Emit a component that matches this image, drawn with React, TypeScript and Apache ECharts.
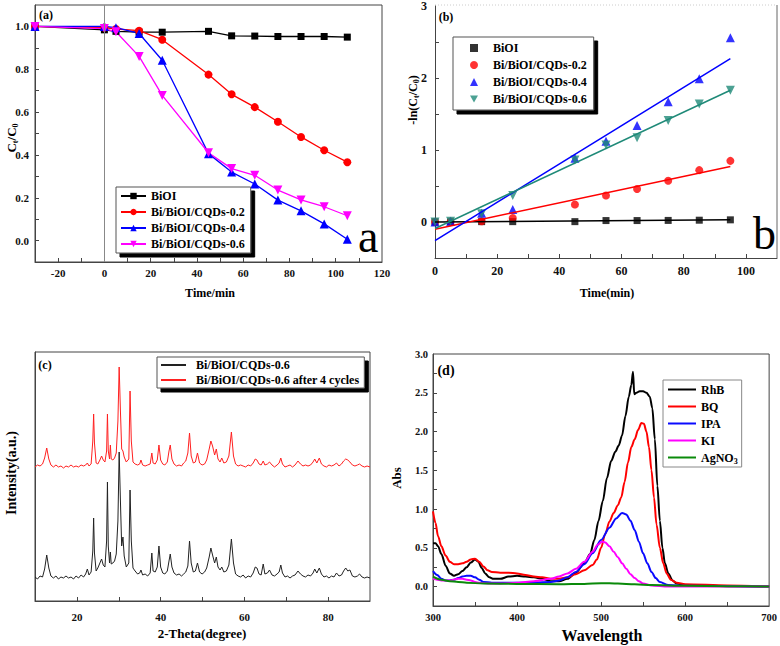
import React, { useEffect, useRef } from 'react';
import * as echarts from 'echarts';

const FONT = '"Liberation Serif", "Times New Roman", Times, serif';

// ---------- (a) Ct/C0 vs time ----------
const aTime = [-30, 0, 5, 15, 25, 45, 55, 65, 75, 85, 95, 105];
const aBiOI = [1.0, 0.984, 0.977, 0.973, 0.973, 0.977, 0.956, 0.955, 0.953, 0.953, 0.953, 0.95];
const aCQD02 = [1.0, 0.995, 0.988, 0.98, 0.938, 0.775, 0.683, 0.623, 0.555, 0.484, 0.422, 0.366];
const aCQD04 = [1.0, 1.0, 0.994, 0.967, 0.842, 0.406, 0.32, 0.264, 0.189, 0.139, 0.078, 0.006];
const aCQD06 = [1.0, 0.99, 0.975, 0.86, 0.678, 0.41, 0.336, 0.305, 0.236, 0.19, 0.158, 0.116];
const aXLabels = [-20, 0, 20, 40, 60, 80, 100, 120];
const aXTicks = [-20, -10, 0, 10, 20, 30, 40, 50, 60, 70, 80, 90, 100, 110];
const aYLabels = [0, 0.2, 0.4, 0.6, 0.8, 1.0];
const aYTicks = [0, 0.1, 0.2, 0.3, 0.4, 0.5, 0.6, 0.7, 0.8, 0.9, 1.0];

// ---------- (b) -ln(Ct/C0) vs time ----------
const bTime = [0, 5, 15, 25, 45, 55, 65, 75, 85, 95];
const bBiOI = [0, 0, 0.005, 0.005, 0.005, 0.02, 0.02, 0.022, 0.025, 0.03];
const bCQD02 = [0, 0.005, 0.01, 0.055, 0.243, 0.367, 0.459, 0.573, 0.72, 0.849];
const bCQD04 = [0, 0.01, 0.12, 0.174, 0.885, 1.12, 1.34, 1.67, 1.99, 2.56];
const bCQD06 = [0, 0.01, 0.115, 0.367, 0.86, 1.07, 1.17, 1.41, 1.64, 1.83];
const bFitTime = [0, 95];
const bFitBiOI = [0.0, 0.03];
const bFitCQD02 = [-0.1, 0.77];
const bFitCQD04 = [-0.26, 2.27];
const bFitCQD06 = [-0.09, 1.83];
const bXLabels = [0, 20, 40, 60, 80, 100];
const bXTicks = [10, 20, 30, 40, 50, 60, 70, 80, 90, 100];
const bYLabels = [0, 1, 2, 3];
const bYTicks = [0, 0.5, 1, 1.5, 2, 2.5];

// ---------- (c) XRD ----------
const xrdAngle = [
  10.0, 10.6, 11.2, 11.8, 12.3, 12.8, 13.3, 13.8, 14.4, 15.0, 15.6, 16.2, 16.8, 17.4, 18.0, 18.6, 19.2, 19.8,
  20.4, 21.0, 21.6, 22.1, 22.5, 22.9, 23.4, 23.8, 24.0, 24.2, 24.6, 25.0, 25.5, 25.9, 26.3, 26.7, 27.1, 27.3,
  27.5, 27.8, 28.0, 28.2, 28.6, 29.0, 29.4, 29.8, 30.1, 30.4, 30.7, 31.0, 31.3, 31.8, 32.4, 32.7, 33.0, 33.4,
  33.9, 34.5, 35.0, 35.3, 35.7, 36.3, 36.9, 37.5, 37.9, 38.2, 38.7, 39.2, 39.6, 40.0, 40.5, 41.0, 41.6, 42.0,
  42.3, 42.7, 43.2, 43.8, 44.4, 45.0, 45.5, 46.0, 46.5, 46.9, 47.3, 47.8, 48.3, 48.8, 49.3, 49.9, 50.5, 51.0,
  51.6, 52.0, 52.4, 52.9, 53.3, 53.7, 54.2, 54.6, 55.1, 55.7, 56.3, 56.9, 57.4, 57.9, 58.5, 59.1, 59.7, 60.3,
  60.9, 61.5, 62.1, 62.6, 63.0, 63.5, 64.0, 64.5, 64.9, 65.5, 66.0, 66.6, 67.2, 67.8, 68.3, 68.7, 69.1, 69.7,
  70.3, 70.9, 71.5, 72.1, 72.8, 73.4, 74.0, 74.6, 75.2, 75.8, 76.4, 76.8, 77.3, 77.9, 78.4, 79.0, 79.6, 80.2,
  80.8, 81.4, 82.0, 82.6, 83.2, 83.7, 84.2, 84.7, 85.2, 85.8, 86.4, 87.0, 87.5, 88.1, 88.7, 89.3, 90.0,
];
const xrdFresh = [
  24, 22, 25, 24, 32, 46, 33, 25, 23, 25, 22, 24, 23, 25, 23, 24, 22, 25,
  23, 26, 24, 27, 32, 26, 29, 50, 83, 48, 30, 33, 38, 42, 36, 34, 60, 119,
  55, 38, 49, 37, 38, 40, 47, 80, 149, 100, 55, 64, 45, 34, 38, 111, 60, 33,
  30, 27, 28, 31, 26, 27, 25, 28, 48, 30, 29, 34, 55, 34, 28, 27, 30, 40,
  47, 34, 28, 26, 27, 25, 27, 29, 35, 60, 38, 29, 30, 38, 29, 27, 29, 33,
  44, 53, 46, 38, 44, 34, 31, 34, 29, 30, 36, 62, 38, 27, 25, 24, 26, 23,
  25, 24, 28, 34, 33, 27, 26, 37, 27, 28, 31, 26, 25, 27, 29, 36, 28, 24,
  25, 23, 25, 26, 30, 27, 25, 24, 26, 25, 28, 32, 28, 33, 27, 24, 25, 23,
  25, 24, 28, 25, 26, 30, 33, 30, 31, 25, 24, 25, 27, 24, 23, 24, 23,
];
const xrdCycled = [
  134, 136, 135, 137, 143, 153, 142, 136, 134, 136, 134, 135, 133, 135, 134, 136, 134, 135,
  134, 136, 135, 136, 138, 135, 137, 160, 187, 158, 138, 137, 141, 145, 141, 139, 150, 187,
  150, 142, 156, 142, 141, 143, 148, 180, 234, 190, 152, 150, 144, 139, 142, 210, 160, 139,
  137, 136, 137, 141, 136, 135, 136, 137, 148, 138, 137, 141, 156, 141, 137, 136, 139, 150,
  156, 142, 137, 135, 136, 135, 138, 140, 148, 168, 145, 138, 139, 148, 138, 136, 137, 141,
  152, 160, 155, 146, 152, 142, 139, 143, 138, 139, 145, 169, 145, 137, 135, 136, 135, 134,
  136, 135, 138, 142, 141, 137, 136, 140, 136, 137, 139, 136, 134, 136, 138, 143, 137, 134,
  135, 136, 134, 136, 140, 137, 135, 136, 135, 136, 139, 142, 138, 143, 137, 135, 134, 136,
  135, 136, 138, 135, 137, 140, 142, 141, 139, 136, 135, 136, 137, 135, 134, 135, 134,
];
const cXLabels = [20, 40, 60, 80];
const cXTicks = [20, 30, 40, 50, 60, 70, 80];

// ---------- (d) UV-vis ----------
const dRhB = [
  [300, 0.56], [303, 0.56], [306, 0.52], [310, 0.42], [315, 0.27], [320, 0.17], [325, 0.14], [330, 0.16],
  [335, 0.2], [340, 0.25], [345, 0.31], [350, 0.35], [354, 0.32], [358, 0.24], [362, 0.17], [367, 0.12],
  [372, 0.1], [380, 0.1], [390, 0.13], [400, 0.14], [410, 0.13], [420, 0.12], [430, 0.1], [440, 0.07],
  [450, 0.07], [460, 0.1], [470, 0.18], [480, 0.3], [487, 0.42], [492, 0.6], [497, 0.85], [502, 1.1],
  [507, 1.4], [512, 1.62], [517, 1.74], [521, 1.82], [525, 1.95], [529, 2.2], [533, 2.45], [536, 2.6],
  [538, 2.77], [539.5, 2.48], [542, 2.5], [546, 2.52], [550, 2.52], [554, 2.5], [558, 2.45], [561, 2.3],
  [564, 1.9], [567, 1.3], [570, 0.85], [573, 0.5], [576, 0.3], [580, 0.17], [585, 0.08], [590, 0.04],
  [600, 0.02], [620, 0.01], [660, 0.005], [700, 0.0],
];
const dBQ = [
  [300, 0.97], [303, 0.82], [306, 0.65], [310, 0.52], [315, 0.4], [320, 0.32], [325, 0.29], [330, 0.29],
  [335, 0.3], [340, 0.32], [345, 0.35], [350, 0.36], [355, 0.32], [360, 0.26], [365, 0.21], [370, 0.19],
  [380, 0.18], [390, 0.18], [400, 0.17], [410, 0.15], [420, 0.13], [430, 0.12], [440, 0.1], [450, 0.1],
  [460, 0.12], [470, 0.16], [480, 0.21], [490, 0.28], [495, 0.35], [500, 0.5], [505, 0.68], [510, 0.84],
  [515, 0.95], [520, 1.05], [524, 1.15], [528, 1.35], [532, 1.6], [536, 1.8], [540, 1.9], [544, 2.02],
  [548, 2.11], [551, 2.1], [554, 2.0], [557, 1.8], [560, 1.5], [563, 1.15], [566, 0.8], [570, 0.5],
  [574, 0.3], [578, 0.17], [583, 0.09], [590, 0.05], [600, 0.03], [650, 0.015], [700, 0.0],
];
const dIPA = [
  [300, 0.2], [305, 0.15], [310, 0.1], [315, 0.08], [320, 0.08], [325, 0.09], [330, 0.11], [335, 0.13],
  [340, 0.14], [345, 0.14], [350, 0.12], [355, 0.09], [360, 0.06], [370, 0.05], [380, 0.05], [400, 0.05],
  [420, 0.05], [440, 0.06], [450, 0.08], [460, 0.12], [470, 0.19], [480, 0.29], [490, 0.43], [500, 0.6],
  [510, 0.76], [518, 0.88], [525, 0.95], [530, 0.93], [535, 0.85], [540, 0.73], [545, 0.58], [550, 0.43],
  [555, 0.3], [560, 0.19], [565, 0.11], [570, 0.06], [580, 0.02], [600, 0.01], [700, 0.0],
];
const dKI = [
  [300, 0.1], [305, 0.09], [310, 0.08], [320, 0.08], [330, 0.1], [335, 0.1], [340, 0.09], [345, 0.08],
  [350, 0.06], [355, 0.05], [365, 0.04], [380, 0.04], [400, 0.05], [420, 0.07], [440, 0.1], [450, 0.13],
  [460, 0.17], [470, 0.23], [480, 0.32], [490, 0.45], [496, 0.54], [501, 0.58], [505, 0.57], [510, 0.52],
  [515, 0.45], [520, 0.38], [525, 0.3], [530, 0.23], [535, 0.16], [540, 0.11], [545, 0.07], [550, 0.04],
  [560, 0.015], [580, 0.0], [700, 0.0],
];
const dAgNO3 = [
  [300, 0.13], [310, 0.09], [320, 0.07], [330, 0.06], [340, 0.05], [360, 0.04], [400, 0.035], [450, 0.03],
  [480, 0.035], [500, 0.045], [520, 0.04], [540, 0.03], [560, 0.02], [600, 0.01], [650, 0.005], [700, 0.0],
];
const dXLabels = [300, 400, 500, 600, 700];
const dXTicks = [350, 400, 450, 500, 550, 600, 650];
const dYLabels = [0, 0.5, 1.0, 1.5, 2.0, 2.5, 3.0];
const dYTicks = [0, 0.25, 0.5, 0.75, 1.0, 1.25, 1.5, 1.75, 2.0, 2.25, 2.5, 2.75];

const aNames = ['BiOI', 'Bi/BiOI/CQDs-0.2', 'Bi/BiOI/CQDs-0.4', 'Bi/BiOI/CQDs-0.6'];
const bNames = aNames.map((n) => n + ' ');
const cNames = ['Bi/BiOI/CQDs-0.6  ', 'Bi/BiOI/CQDs-0.6 after 4 cycles'];
const dNames = ['RhB', 'BQ', 'IPA', 'KI', 'AgNO3'];

const AXC = '#444';
const DOWN_TRI = 'path://M0,0L10,0L5,9Z';

function xAxisDef(gridIndex: number, min: number, max: number, labels: number[], ticks: number[], fontSize: number, margin: number) {
  return {
    gridIndex, type: 'value', min, max,
    axisLine: { onZero: false, lineStyle: { color: AXC, width: 1 } },
    axisTick: { inside: true, length: 4, customValues: ticks, lineStyle: { color: AXC } },
    axisLabel: { customValues: labels, fontFamily: FONT, fontWeight: 'bold', fontSize, color: '#111', margin },
    splitLine: { show: false },
  };
}
function yAxisDef(gridIndex: number, min: number, max: number, labels: number[] | null, ticks: number[] | null, fontSize: number, margin: number, fmt?: (v: number) => string) {
  return {
    gridIndex, type: 'value', min, max,
    axisLine: { onZero: false, lineStyle: { color: AXC, width: 1 } },
    axisTick: ticks ? { inside: true, length: 4, customValues: ticks, lineStyle: { color: AXC } } : { show: false },
    axisLabel: labels
      ? { customValues: labels, fontFamily: FONT, fontWeight: 'bold', fontSize, color: '#111', margin, formatter: fmt }
      : { show: false },
    splitLine: { show: false },
  };
}

const zip = (xs: number[], ys: number[]) => xs.map((x, i) => [x, ys[i]]);

const sub = (size: number) => ({
  m: { fontFamily: FONT, fontWeight: 'bold', fontSize: size, lineHeight: size + 3, fill: '#000', color: '#000' },
  s: { fontFamily: FONT, fontWeight: 'bold', fontSize: Math.round(size * 0.65), lineHeight: Math.round(size * 0.65), verticalAlign: 'bottom', fill: '#000', color: '#000' },
});

function txt(x: number, y: number, text: string, size: number, extra: any = {}) {
  return {
    type: 'text', x, y, z: 10, silent: true,
    style: { text, fontSize: size, fontFamily: FONT, fontWeight: 'bold', fill: '#000', align: 'center', verticalAlign: 'middle', ...extra },
  };
}
function vtxt(x: number, y: number, text: string, size: number, rich?: any) {
  return {
    type: 'text', x, y, rotation: Math.PI / 2, z: 10, silent: true,
    style: rich
      ? { text, rich, align: 'center', verticalAlign: 'middle' }
      : { text, fontSize: size, fontFamily: FONT, fontWeight: 'bold', fill: '#000', align: 'center', verticalAlign: 'middle' },
  };
}

export default function App() {
  const ref = useRef<HTMLDivElement>(null);
  useEffect(() => {
    if (!ref.current) return;
    const chart = echarts.init(ref.current, null, { renderer: 'svg' });
    const legendText = { fontFamily: FONT, fontWeight: 'bold', fontSize: 12, color: '#000', lineHeight: 14 };
    const option: any = {
      animation: false,
      backgroundColor: '#fff',
      grid: [
        { left: 35, top: 5, width: 347, height: 257, show: true, borderColor: AXC, borderWidth: 1 },
        { left: 435, top: 5, width: 342, height: 253, show: false },
        { left: 35, top: 352, width: 335, height: 249, show: true, borderColor: AXC, borderWidth: 1 },
        { left: 433, top: 354, width: 338, height: 252, show: true, borderColor: AXC, borderWidth: 1 },
      ],
      xAxis: [
        xAxisDef(0, -30, 120, aXLabels, aXTicks, 11, 5),
        xAxisDef(1, 0, 110, bXLabels, bXTicks, 12, 7),
        xAxisDef(2, 10, 90, cXLabels, cXTicks, 11, 10),
        xAxisDef(3, 300, 700, dXLabels, dXTicks, 10.5, 6),
      ],
      yAxis: [
        yAxisDef(0, -0.1, 1.1, aYLabels, aYTicks, 11, 6, (v: number) => v.toFixed(1)),
        yAxisDef(1, -0.5, 3, bYLabels, bYTicks, 12, 8),
        yAxisDef(2, 0, 249, null, null, 11, 6),
        yAxisDef(3, -0.25, 3.0, dYLabels, dYTicks, 10.5, 5, (v: number) => v.toFixed(1)),
      ],
      legend: [
        {
          data: aNames, left: 116, top: 187, orient: 'vertical', itemWidth: 25, itemHeight: 8, itemGap: 2,
          padding: [2, 6, 2, 4], backgroundColor: '#fff', borderColor: '#555', borderWidth: 1,
          shadowColor: '#000', shadowOffsetX: 4, shadowOffsetY: 4, shadowBlur: 0,
          textStyle: legendText, selectedMode: false,
        },
        {
          data: [
            { name: bNames[0], icon: 'rect' },
            { name: bNames[1], icon: 'circle' },
            { name: bNames[2], icon: 'triangle' },
            { name: bNames[3], icon: DOWN_TRI },
          ],
          left: 453, top: 37, orient: 'vertical', itemWidth: 8, itemHeight: 8, itemGap: 3,
          padding: [4, 7, 4, 17], backgroundColor: '#fff', borderColor: '#555', borderWidth: 1,
          shadowColor: '#000', shadowOffsetX: 4, shadowOffsetY: 4, shadowBlur: 0,
          textStyle: { ...legendText, padding: [0, 0, 0, 10] }, selectedMode: false, formatter: (n: string) => n.trim(),
        },
        {
          data: cNames, left: 157, top: 357, orient: 'vertical', itemWidth: 25, itemHeight: 6, itemGap: 1,
          padding: [1, 5, 1, 3], backgroundColor: '#fff', borderColor: '#555', borderWidth: 1,
          shadowColor: '#000', shadowOffsetX: 4, shadowOffsetY: 4, shadowBlur: 0,
          itemStyle: { opacity: 0 },
          textStyle: { ...legendText, padding: [0, 0, 0, 5] }, selectedMode: false, formatter: (n: string) => n.trim(),
        },
        {
          data: dNames, left: 663, top: 380, orient: 'vertical', itemWidth: 28, itemHeight: 6, itemGap: 2,
          padding: [2, 4, 2, 4], backgroundColor: '#fff', borderColor: '#888', borderWidth: 1,
          itemStyle: { opacity: 0 },
          textStyle: { ...legendText, rich: sub(12) }, selectedMode: false,
          formatter: (n: string) => (n === 'AgNO3' ? '{m|AgNO}{s|3}' : '{m|' + n + '}'),
        },
      ],
      series: [
        // (a)
        {
          type: 'line', name: aNames[0], xAxisIndex: 0, yAxisIndex: 0, data: zip(aTime, aBiOI),
          symbol: 'rect', symbolSize: 7, color: '#000', lineStyle: { width: 1.3 },
          markLine: {
            silent: true, symbol: ['none', 'none'], label: { show: false },
            lineStyle: { color: '#888', width: 1, type: 'solid' }, data: [{ xAxis: 0 }],
          },
        },
        { type: 'line', name: aNames[1], xAxisIndex: 0, yAxisIndex: 0, data: zip(aTime, aCQD02), symbol: 'circle', symbolSize: 8, color: '#ff0000', lineStyle: { width: 1.3 } },
        { type: 'line', name: aNames[2], xAxisIndex: 0, yAxisIndex: 0, data: zip(aTime, aCQD04), symbol: 'triangle', symbolSize: 9, color: '#0000ff', lineStyle: { width: 1.3 } },
        { type: 'line', name: aNames[3], xAxisIndex: 0, yAxisIndex: 0, data: zip(aTime, aCQD06), symbol: 'triangle', symbolRotate: 180, symbolSize: 9, color: '#ff00ff', lineStyle: { width: 1.3 } },
        // (b) fits
        { type: 'line', name: 'fitB0', xAxisIndex: 1, yAxisIndex: 1, data: zip(bFitTime, bFitBiOI), symbol: 'none', color: '#000', lineStyle: { width: 1.5 } },
        { type: 'line', name: 'fitB1', xAxisIndex: 1, yAxisIndex: 1, data: zip(bFitTime, bFitCQD02), symbol: 'none', color: '#ff0000', lineStyle: { width: 1.5 } },
        { type: 'line', name: 'fitB2', xAxisIndex: 1, yAxisIndex: 1, data: zip(bFitTime, bFitCQD04), symbol: 'none', color: '#0000ff', lineStyle: { width: 1.5 } },
        { type: 'line', name: 'fitB3', xAxisIndex: 1, yAxisIndex: 1, data: zip(bFitTime, bFitCQD06), symbol: 'none', color: '#1f8a78', lineStyle: { width: 1.5 } },
        // (b) points
        { type: 'scatter', name: bNames[0], xAxisIndex: 1, yAxisIndex: 1, data: zip(bTime, bBiOI), symbol: 'rect', symbolSize: 7, color: '#000' },
        { type: 'scatter', name: bNames[1], xAxisIndex: 1, yAxisIndex: 1, data: zip(bTime, bCQD02), symbol: 'circle', symbolSize: 8, color: '#ff0000' },
        { type: 'scatter', name: bNames[2], xAxisIndex: 1, yAxisIndex: 1, data: zip(bTime, bCQD04), symbol: 'triangle', symbolSize: 9, color: '#0000ff' },
        { type: 'scatter', name: bNames[3], xAxisIndex: 1, yAxisIndex: 1, data: zip(bTime, bCQD06), symbol: 'triangle', symbolRotate: 180, symbolSize: 9, color: '#1f8a78' },
        // (c)
        { type: 'line', name: cNames[0], xAxisIndex: 2, yAxisIndex: 2, data: zip(xrdAngle, xrdFresh), symbol: 'none', color: '#222', lineStyle: { width: 1 } },
        { type: 'line', name: cNames[1], xAxisIndex: 2, yAxisIndex: 2, data: zip(xrdAngle, xrdCycled), symbol: 'none', color: '#ff2020', lineStyle: { width: 1 } },
        // (d)
        { type: 'line', name: 'RhB', xAxisIndex: 3, yAxisIndex: 3, data: dRhB, symbol: 'none', smooth: 0.3, smoothMonotone: 'x', color: '#000', lineStyle: { width: 2 } },
        { type: 'line', name: 'BQ', xAxisIndex: 3, yAxisIndex: 3, data: dBQ, symbol: 'none', smooth: 0.3, smoothMonotone: 'x', color: '#ff0000', lineStyle: { width: 2 } },
        { type: 'line', name: 'IPA', xAxisIndex: 3, yAxisIndex: 3, data: dIPA, symbol: 'none', smooth: 0.3, smoothMonotone: 'x', color: '#0a0aff', lineStyle: { width: 2 } },
        { type: 'line', name: 'KI', xAxisIndex: 3, yAxisIndex: 3, data: dKI, symbol: 'none', smooth: 0.3, smoothMonotone: 'x', color: '#ff00ff', lineStyle: { width: 2 } },
        { type: 'line', name: 'AgNO3', xAxisIndex: 3, yAxisIndex: 3, data: dAgNO3, symbol: 'none', smooth: 0.3, smoothMonotone: 'x', color: '#0a8a0a', lineStyle: { width: 2 } },
      ],
      graphic: {
        elements: [
          // panel (b) frame pieces
          { type: 'line', silent: true, shape: { x1: 777, y1: 5, x2: 777, y2: 258 }, style: { stroke: '#666', lineWidth: 1 } },
          { type: 'line', silent: true, shape: { x1: 435, y1: 5, x2: 777, y2: 5 }, style: { stroke: '#ccc', lineWidth: 1, lineDash: [1, 2] } },
          // panel tags
          txt(46, 15, '(a)', 12),
          txt(446, 17, '(b)', 12),
          txt(45, 365, '(c)', 12),
          txt(446, 370, '(d)', 14),
          // big letters
          { type: 'text', x: 358, y: 236, z: 10, silent: true, style: { text: 'a', fontSize: 46, fontFamily: FONT, fill: '#000', align: 'left', verticalAlign: 'middle' } },
          { type: 'text', x: 753, y: 233, z: 10, silent: true, style: { text: 'b', fontSize: 46, fontFamily: FONT, fill: '#000', align: 'left', verticalAlign: 'middle' } },
          // axis titles
          txt(210, 293, 'Time/min', 12),
          vtxt(11, 138, '{m|C}{s|t}{m|/C}{s|0}', 13, sub(13)),
          txt(607, 293, 'Time(min)', 12),
          vtxt(413, 100, '{m|-ln(C}{s|t}{m|/C}{s|0}{m|)}', 12, sub(12)),
          vtxt(11, 473, 'Intensity(a.u.)', 14),
          txt(202, 633, '2-Theta(degree)', 13),
          vtxt(396, 478, 'Abs', 13),
          txt(602, 635, 'Wavelength', 16),
        ],
      },
    };
    chart.setOption(option);
    return () => chart.dispose();
  }, []);
  return <div ref={ref} style={{ position: 'absolute', left: 0, top: 0, width: 780, height: 646, background: '#fff' }} />;
}
